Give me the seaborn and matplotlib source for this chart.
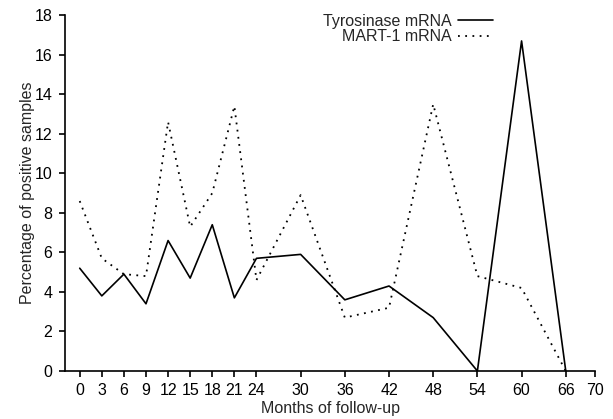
import matplotlib
matplotlib.use("Agg")
import matplotlib.pyplot as plt
import seaborn as sns
import pandas as pd

# ── Data ──────────────────────────────────────────────────────
months = [0, 3, 6, 9, 12, 15, 18, 21, 24, 30, 36, 42, 48, 54, 60, 66]
tyrosinase = [5.2, 3.8, 4.9, 3.4, 6.6, 4.7, 7.4, 3.7, 5.7, 5.9, 3.6, 4.3, 2.7, 0.0, 16.7, 0.0]
mart1 = [8.6, 5.7, 4.9, 4.8, 12.6, 7.3, 9.0, 13.4, 4.6, 8.9, 2.7, 3.2, 13.5, 4.8, 4.2, 0.0]
xticks = [0, 3, 6, 9, 12, 15, 18, 21, 24, 30, 36, 42, 48, 54, 60, 66, 70]
yticks = [0, 2, 4, 6, 8, 10, 12, 14, 16, 18]

sns.set_style("ticks")
plt.rcParams.update({
    "font.family": ["Liberation Sans", "DejaVu Sans"],
    "font.size": 11.5,
    "axes.linewidth": 1.2,
    "xtick.major.width": 1.2,
    "ytick.major.width": 1.2,
    "xtick.major.size": 4,
    "ytick.major.size": 4,
    "xtick.color": "black",
    "ytick.color": "black",
    "axes.edgecolor": "black",
})

df = pd.DataFrame({"month": months, "tyr": tyrosinase, "mart": mart1})

fig = plt.figure(figsize=(6.13, 4.19), dpi=100)
ax = fig.add_axes([0.106, 0.1146, 0.865, 0.849])

sns.lineplot(data=df, x="month", y="tyr", ax=ax, color="black", linewidth=1.2,
             linestyle="-", label="Tyrosinase mRNA")
sns.lineplot(data=df, x="month", y="mart", ax=ax, color="black", linewidth=1.3,
             linestyle=(0, (1, 3)), label="MART-1 mRNA")

ax.set_xlim(-2, 70)
ax.set_ylim(0, 18)
ax.set_xticks(xticks)
ax.set_yticks(yticks)
ax.tick_params(labelsize=11.5, pad=5)
ax.set_xlabel("Months of follow-up", fontsize=11.5, labelpad=2)
ax.set_ylabel("Percentage of positive samples", fontsize=11.5, labelpad=0)
sns.despine(ax=ax)
ax.spines["left"].set_bounds(0, 18)

leg = ax.legend(loc="upper right", bbox_to_anchor=(0.835, 1.045), frameon=False,
                markerfirst=False, fontsize=11.5, handlelength=2.2,
                handletextpad=0.4, labelspacing=0.05)
for t in leg.get_texts():
    t.set_ha("right")

fig.savefig("out.png", dpi=100)
